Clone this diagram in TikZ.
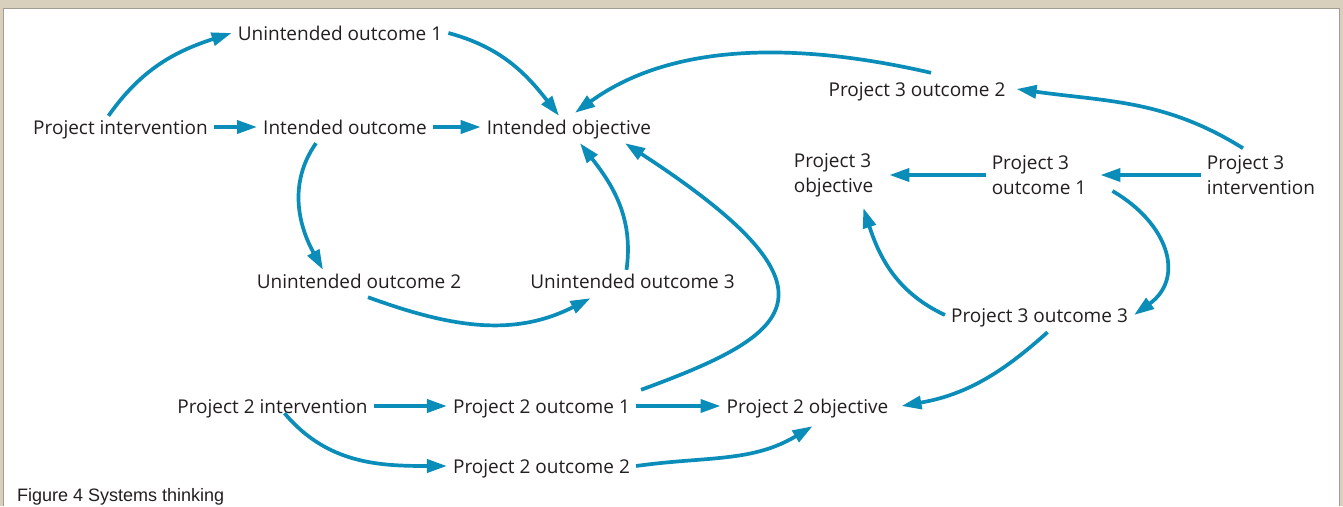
\documentclass[tikz,border=0pt]{standalone}
\usepackage{fontspec}
\setmainfont{Open Sans}
\newfontfamily\capfont{Liberation Sans}
\usetikzlibrary{arrows.meta}
\definecolor{loopblue}{HTML}{0A8DB9}
\definecolor{inktext}{HTML}{231F20}
\definecolor{framebeige}{HTML}{D8CFBD}
\definecolor{framegrey}{HTML}{A39C90}

\begin{document}
\begin{tikzpicture}[x=1pt,y=1pt,
    lbl/.style={font=\fontsize{19}{25}\selectfont, text=inktext, inner xsep=6pt, inner ysep=4pt},
    one/.style={lbl, text height=14pt, text depth=0pt},
    two/.style={lbl, align=left},
    flow/.style={draw=loopblue, line width=3.7pt, -{Triangle[length=20pt,width=13pt]}}]
            % frame
            \useasboundingbox (0,0) rectangle (1343,-506);
            \fill[framebeige] (0,0) rectangle (1343,-506);
            \fill[white] (3,-8) rectangle (1339,-506);
            \draw[framegrey, line width=1pt] (3,-506) -- (3,-8) -- (1339,-8) -- (1339,-506);
            % first project
            \node[one] (uo1) at (340,-33) {Unintended outcome 1};
            \node[one] (pi) at (120.5,-127) {Project intervention};
            \node[one] (io) at (345,-127) {Intended outcome};
            \node[one] (iobj) at (569,-127) {Intended objective};
            \node[one] (uo2) at (359,-281) {Unintended outcome 2};
            \node[one] (uo3) at (632.5,-281) {Unintended outcome 3};
            % project 3
            \node[one] (p3o2) at (917,-89) {Project 3 outcome 2};
            \node[two] (p3obj) at (833.5,-175) {Project 3\\objective};
            \node[two] (p3o1) at (1039,-175) {Project 3\\outcome 1};
            \node[two] (p3i) at (1261,-175) {Project 3\\intervention};
            \node[one] (p3o3) at (1039.5,-315) {Project 3 outcome 3};
            % project 2
            \node[one] (p2i) at (272.5,-406) {Project 2 intervention};
            \node[one] (p2o1) at (541.5,-406) {Project 2 outcome 1};
            \node[one] (p2obj) at (807.5,-406) {Project 2 objective};
            \node[one] (p2o2) at (541.5,-466) {Project 2 outcome 2};
            \node[font=\capfont\fontsize{18}{20}\selectfont, text=inktext, anchor=base west, inner sep=0pt] (cap) at (17,-501) {Figure 4 Systems thinking};
            % links
            \draw[flow] ([xshift=-12pt]pi.north) to[out=55,in=198] (uo1.west);
            \draw[flow] (uo1.east) to[out=-15,in=128] ([xshift=-10pt]iobj.north);
            \draw[flow] (pi.east) -- (io.west);
            \draw[flow] (io.east) -- (iobj.west);
            \draw[flow] ([xshift=-29pt,yshift=-5pt]io.south) to[out=235,in=119] ([xshift=-36pt]uo2.north);
            \draw[flow] ([xshift=9pt,yshift=-5pt]uo2.south) to[out=-20,in=207] ([xshift=-42pt,yshift=-6pt]uo3.south);
            \draw[flow] ([xshift=-6pt]uo3.north) to[out=82,in=-52] ([xshift=11pt,yshift=-5pt]iobj.south);
            \draw[flow] ([shift={(5pt,5pt)}]p2o1.north east) .. controls +(150,55) and +(230,-150) .. ([xshift=56pt,yshift=-5pt]iobj.south);
            \draw[flow] ([xshift=14pt,yshift=5pt]p3o2.north) to[out=167,in=36,looseness=0.9] ([xshift=6pt,yshift=3pt]iobj.north);
            \draw[flow] ([xshift=-18pt,yshift=3pt]p3i.north) to[out=148,in=-8] ([xshift=5pt]p3o2.east);
            \draw[flow, shorten >=8pt] (p3i.west) -- (p3o1.east);
            \draw[flow, shorten >=10pt] (p3o1.west) -- (p3obj.east);
            \draw[flow] ([xshift=20pt,yshift=-16pt]p3o1.east) to[out=-30,in=36,looseness=1.3] (p3o3.east);
            \draw[flow] (p3o3.west) to[out=155,in=-72] ([xshift=-16pt,yshift=-7pt]p3obj.south east);
            \draw[flow] ([xshift=8pt,yshift=-6pt]p3o3.south) to[out=222,in=10] ([xshift=7pt]p2obj.east);
            \draw[flow] (p2i.east) -- (p2o1.west);
            \draw[flow] (p2o1.east) -- (p2obj.west);
            \draw[flow] ([xshift=12pt,yshift=4pt]p2i.south) to[out=-50,in=180] (p2o2.west);
            \draw[flow] (p2o2.east) to[out=8,in=211] ([xshift=5pt,yshift=-9pt]p2obj.south);
\end{tikzpicture}
\end{document}
